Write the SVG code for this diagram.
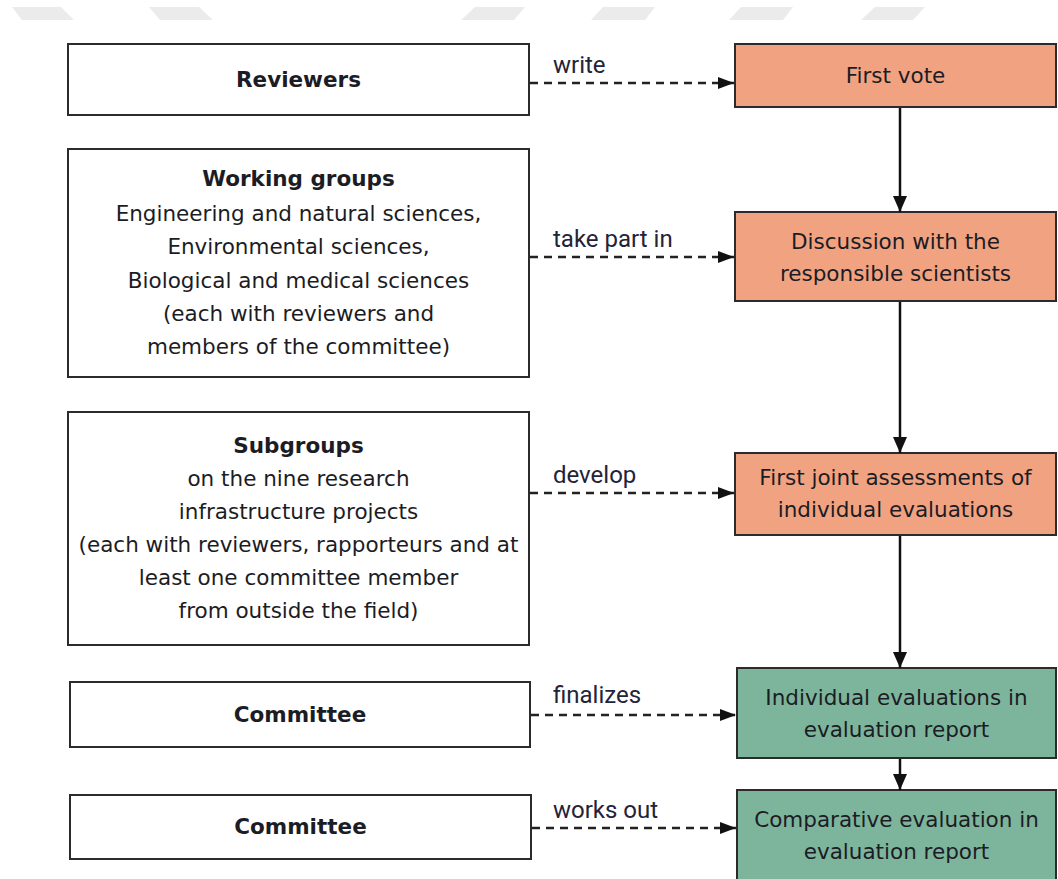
<svg xmlns="http://www.w3.org/2000/svg" width="1058" height="879" viewBox="0 0 1058 879">
<style>
.bg{fill:#ffffff}
.wm{fill:#ebebeb}
.box{fill:#ffffff;stroke:#2b2b2b;stroke-width:2}
.or{fill:#f1a381;stroke:#2b2b2b;stroke-width:2}
.gr{fill:#7db59c;stroke:#2b2b2b;stroke-width:2}
.t{font-family:"DejaVu Sans","Liberation Sans",sans-serif;font-size:21.5px;fill:#1c1c24;text-anchor:middle}
.b{font-weight:bold}
.lbl{font-family:Roboto,"Liberation Sans",sans-serif;font-size:24px;fill:#23233a}
.dash{fill:none;stroke:#222;stroke-width:2.5;stroke-dasharray:8 6}
.solid{fill:none;stroke:#111;stroke-width:2.5}
</style>
<defs>
<marker id="ah" markerUnits="userSpaceOnUse" markerWidth="17" markerHeight="13" refX="16" refY="6" orient="auto">
<path d="M0,0 L16,6 L0,12 z" fill="#111"/>
</marker>
<marker id="av" markerUnits="userSpaceOnUse" markerWidth="17" markerHeight="15" refX="16" refY="7" orient="auto">
<path d="M0,0 L16,7 L0,14 z" fill="#111"/>
</marker>
</defs>
<rect class="bg" x="0" y="0" width="1058" height="879"/>
<g id="watermark">
<polygon class="wm" points="12,7 61,7 74,20 22,20"/>
<polygon class="wm" points="149,7 199,7 213,20 160,20"/>
<polygon class="wm" points="475,7 525,7 514,20 461,20"/>
<polygon class="wm" points="603,7 655,7 645,20 591,20"/>
<polygon class="wm" points="741,7 793,7 783,20 729,20"/>
<polygon class="wm" points="875,7 925,7 913,20 861,20"/>
</g>
<g id="reviewers">
<rect class="box" x="68" y="44" width="461" height="71"/>
<text class="t b" x="298.5" y="87">Reviewers</text>
</g>
<g id="working-groups">
<rect class="box" x="68" y="149" width="461" height="228"/>
<text class="t b" x="298.5" y="186">Working groups</text>
<text class="t" x="298.5" y="221">Engineering and natural sciences,</text>
<text class="t" x="298.5" y="254">Environmental sciences,</text>
<text class="t" x="298.5" y="288">Biological and medical sciences</text>
<text class="t" x="298.5" y="321">(each with reviewers and</text>
<text class="t" x="298.5" y="354">members of the committee)</text>
</g>
<g id="subgroups">
<rect class="box" x="68" y="412" width="461" height="233"/>
<text class="t b" x="298.5" y="453">Subgroups</text>
<text class="t" x="298.5" y="486">on the nine research</text>
<text class="t" x="298.5" y="519">infrastructure projects</text>
<text class="t" x="298.5" y="552">(each with reviewers, rapporteurs and at</text>
<text class="t" x="298.5" y="585">least one committee member</text>
<text class="t" x="298.5" y="618">from outside the field)</text>
</g>
<g id="committee-1">
<rect class="box" x="70" y="682" width="460" height="65"/>
<text class="t b" x="300" y="722">Committee</text>
</g>
<g id="committee-2">
<rect class="box" x="70" y="795" width="461" height="64"/>
<text class="t b" x="300.5" y="834">Committee</text>
</g>
<g id="first-vote">
<rect class="or" x="735" y="44" width="321" height="63"/>
<text class="t" x="895.5" y="83">First vote</text>
</g>
<g id="discussion">
<rect class="or" x="735" y="212" width="321" height="89"/>
<text class="t" x="895.5" y="249">Discussion with the</text>
<text class="t" x="895.5" y="281">responsible scientists</text>
</g>
<g id="first-joint">
<rect class="or" x="735" y="453" width="321" height="82"/>
<text class="t" x="895.5" y="485">First joint assessments of</text>
<text class="t" x="895.5" y="517">individual evaluations</text>
</g>
<g id="individual">
<rect class="gr" x="737" y="668" width="319" height="90"/>
<text class="t" x="896.5" y="705">Individual evaluations in</text>
<text class="t" x="896.5" y="737">evaluation report</text>
</g>
<g id="comparative">
<rect class="gr" x="737" y="790" width="319" height="100"/>
<text class="t" x="896.5" y="827">Comparative evaluation in</text>
<text class="t" x="896.5" y="859">evaluation report</text>
</g>
<g id="connectors">
<line class="dash" x1="530" y1="83" x2="734" y2="83" marker-end="url(#ah)"/>
<line class="dash" x1="530" y1="257" x2="734" y2="257" marker-end="url(#ah)"/>
<line class="dash" x1="530" y1="493" x2="734" y2="493" marker-end="url(#ah)"/>
<line class="dash" x1="531" y1="715" x2="736" y2="715" marker-end="url(#ah)"/>
<line class="dash" x1="532" y1="828" x2="736" y2="828" marker-end="url(#ah)"/>
<line class="solid" x1="900" y1="108" x2="900" y2="212" marker-end="url(#av)"/>
<line class="solid" x1="900" y1="302" x2="900" y2="453" marker-end="url(#av)"/>
<line class="solid" x1="900" y1="536" x2="900" y2="668" marker-end="url(#av)"/>
<line class="solid" x1="900" y1="759" x2="900" y2="790" marker-end="url(#av)"/>
<text class="lbl" x="553" y="73">write</text>
<text class="lbl" x="553" y="247">take part in</text>
<text class="lbl" x="553" y="483">develop</text>
<text class="lbl" x="553" y="703">finalizes</text>
<text class="lbl" x="553" y="818">works out</text>
</g>
</svg>
